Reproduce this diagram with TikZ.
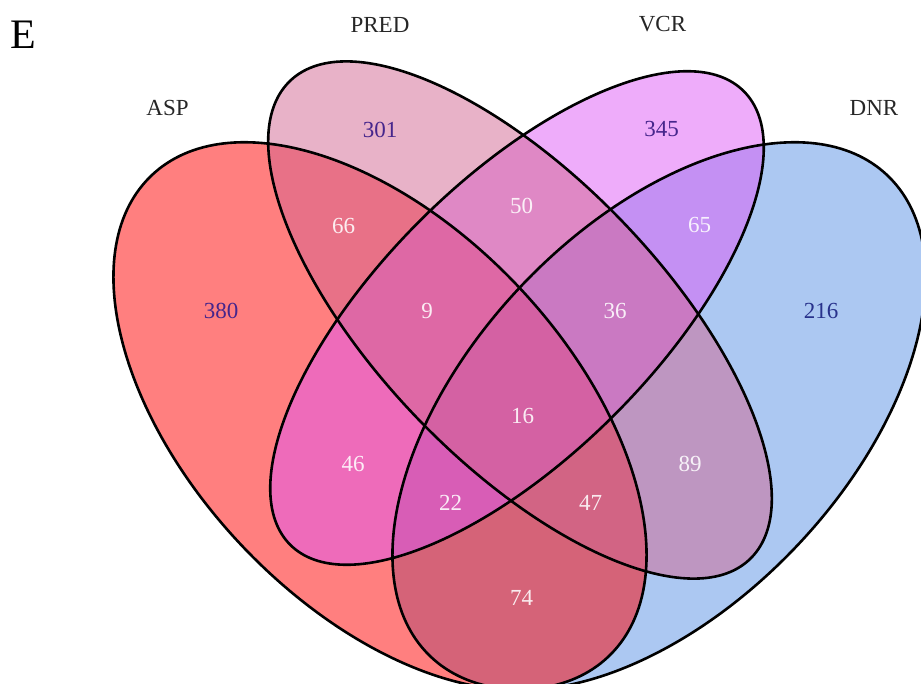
\documentclass[tikz,border=0pt]{standalone}
\usepackage{fontspec}
\setmainfont{Liberation Serif}
\usepackage{tikz}
\usetikzlibrary{positioning}
\usepackage{xcolor}

\definecolor{aspcol}{RGB}{255,0,0}
\definecolor{predcol}{RGB}{209,101,145}
\definecolor{vcrcol}{RGB}{221,89,245}
\definecolor{dnrcol}{RGB}{89,145,229}
\definecolor{outnum}{RGB}{70,38,140}
\definecolor{dnrnum}{RGB}{40,50,140}

\begin{document}
\begin{tikzpicture}[x=0.5pt,y=-0.5pt,
				every node/.style={font=\fontsize{11.5}{13}\selectfont},
				setfill/.style={fill=#1,fill opacity=0.5},
				outline/.style={draw=black,line width=1.3pt},
				catlabel/.style={text=black!85},
				outer/.style={text=outnum},
				inner/.style={text=white,text opacity=0.88}]
				\useasboundingbox (0,0) rectangle (921,684);
				\begin{scope}
				\clip (0,0) rectangle (921,684);
				% fills, bottom to top
				\fill[setfill=dnrcol,shift={(659,416)},yscale=1.027,rotate=45] (0,0) ellipse (327.25 and 187);
				\fill[setfill=aspcol,shift={(380,416)},yscale=1.027,rotate=-45] (0,0) ellipse (327.25 and 187);
				\fill[setfill=vcrcol,shift={(517,318)},rotate=45] (0,0) ellipse (320.7 and 137.4);
				\fill[setfill=predcol,shift={(520,320)},yscale=1.027,rotate=-45] (0,0) ellipse (327.25 and 140.25);
				% outlines
				\draw[outline,shift={(659,416)},yscale=1.027,rotate=45] (0,0) ellipse (327.25 and 187);
				\draw[outline,shift={(380,416)},yscale=1.027,rotate=-45] (0,0) ellipse (327.25 and 187);
				\draw[outline,shift={(517,318)},rotate=45] (0,0) ellipse (320.7 and 137.4);
				\draw[outline,shift={(520,320)},yscale=1.027,rotate=-45] (0,0) ellipse (327.25 and 140.25);
				\end{scope}
				% panel letter and set names
				\node (panel) at (23.5,34.5) {\fontsize{21}{24}\selectfont E};
				\node[catlabel] (asp) at (167.5,108) {ASP};
				\node[catlabel] (pred) at (380,24.5) {PRED};
				\node[catlabel] (vcr) at (662.5,24) {VCR};
				\node[catlabel] (dnr) at (874,108) {DNR};
				% counts
				\node[outer] (a) at (221,311) {380};
				\node[outer] (p) at (380,129.5) {301};
				\node[outer] (v) at (661.5,129.5) {345};
				\node[text=dnrnum] (d) at (821,311) {216};
				\node[inner] (ap) at (343.5,225.5) {66};
				\node[inner] (pv) at (521.5,205.5) {50};
				\node[inner] (vd) at (699.5,224.5) {65};
				\node[inner] (apv) at (427,311) {9};
				\node[inner] (pvd) at (615,311) {36};
				\node[inner] (apvd) at (522.5,416) {16};
				\node[inner] (av) at (353,463.5) {46};
				\node[inner] (pd) at (690,464) {89};
				\node[inner] (avd) at (450.5,503) {22};
				\node[inner] (apd) at (590.5,503) {47};
				\node[inner] (ad) at (521.5,598) {74};
			\end{tikzpicture}
\end{document}
